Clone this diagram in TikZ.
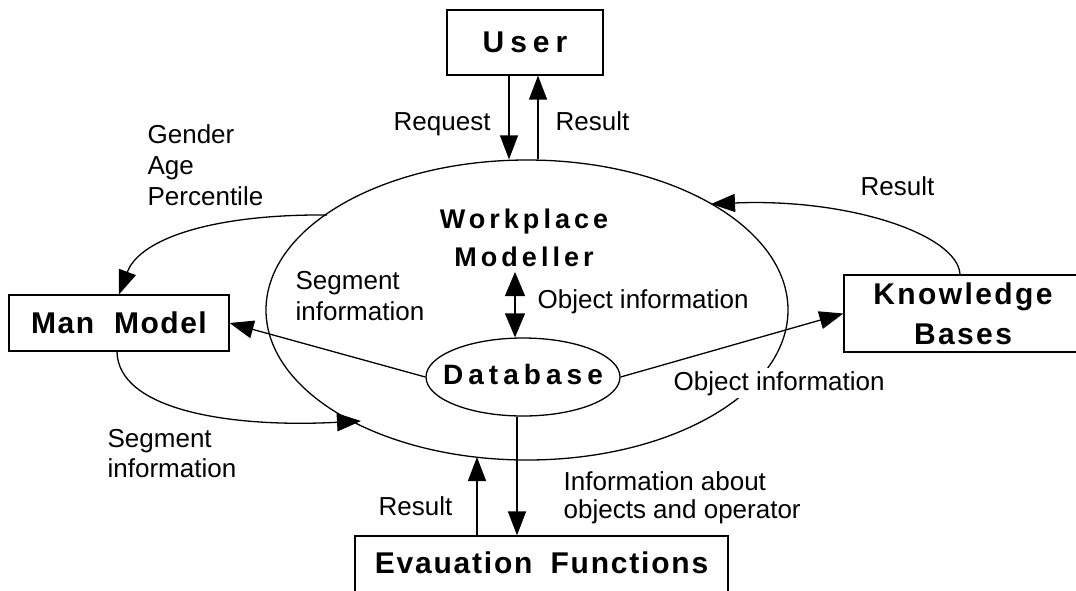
\documentclass[tikz,border=0pt]{standalone}
\usepackage{fontspec}
\setmainfont{Liberation Sans}
\usetikzlibrary{arrows.meta,shapes.geometric}

\tikzset{
  arr/.style={-{Triangle[length=24pt,width=18pt]}},
  dbl/.style={{Triangle[length=24pt,width=20pt]}-{Triangle[length=24pt,width=20pt]}},
  box/.style={draw, rectangle, inner sep=0pt, line width=1.2pt},
  lbl/.style={font=\fontsize{26}{31}\selectfont, inner sep=0pt},
  title/.style={font=\fontsize{30}{40}\selectfont\bfseries\addfontfeature{LetterSpace=#1}},
}

\begin{document}
\begin{tikzpicture}[x=1pt, y=-1pt, line width=1.3pt]
\useasboundingbox (0,0) rectangle (1076,590);
\clip (0,0) rectangle (1076,590);

% central modeller and its database
\node[draw, ellipse, minimum width=522pt, minimum height=300pt, inner sep=0pt] (wm) at (527,310) {};
\node[font=\fontsize{27}{38}\selectfont\bfseries\addfontfeature{LetterSpace=15}, align=center, inner sep=0pt] (wmt) at (524,238) {Workplace\\Modeller};
\node[draw, ellipse, minimum width=194pt, minimum height=78pt, inner sep=0pt,
      label={[inner sep=0pt, yshift=3pt, font=\fontsize{28}{34}\selectfont\bfseries\addfontfeature{LetterSpace=18}]center:Database}] (db) at (523,377) {};

% surrounding components
\node[box, title=20, minimum width=156pt, minimum height=65pt] (user) at (525,42.5) {User};
\node[box, title=5, minimum width=220pt, minimum height=56pt] (mm) at (119,323) {Man\hspace{20pt}Model};
\node[box, title=8, align=center, minimum width=238pt, minimum height=77pt] (kb) at (963,313.5) {Knowledge\\Bases};
\node[box, title=6, minimum width=373pt, minimum height=70pt, text height=21pt, text depth=17pt] (ev) at (541.5,571) {Evauation\hspace{18pt}Functions};

% points where connectors meet the modeller outline
\coordinate (wmGA) at (327,215);
\coordinate (wmSeg) at (361,421);
\coordinate (wmKB) at (711,204);
\coordinate (wmEv) at (477,457);
\coordinate (wmtb) at (515,272);

% connectors
\draw[arr] ([xshift=-16pt]user.south) -- ([xshift=-16pt]user.south |- wm.north);
\draw[arr] ([xshift=13pt]user.south |- wm.north) -- ([xshift=13pt]user.south);
\draw[arr] (wmGA) .. controls (215,214) and (140,238) .. (mm.north);
\draw[arr] ([xshift=-2pt]mm.south) .. controls (118,410) and (230,428) .. (wmSeg);
\draw[arr] ([xshift=-3pt]kb.north) .. controls (958,235) and (850,198) .. (wmKB);
\draw[arr] (db.west) -- (mm.east);
\draw[arr] (db.east) -- (kb.west);
\draw[dbl] (wmtb) -- (wmtb |- db.north);
\draw[arr] (ev.north -| wmEv) -- (wmEv);
\draw[arr] ([xshift=-6pt]db.south) -- ([xshift=-6pt]db.south |- ev.north);

% labels
\node[lbl, anchor=base west] (req) at (393,130) {Request};
\node[lbl, anchor=base west] (res1) at (555,130) {Result};
\node[lbl, anchor=north west, align=left] (gap) at (147,124) {Gender\\Age\\Percentile};
\node[lbl, anchor=north west, align=left] (seg1) at (295,271) {Segment\\information};
\node[lbl, anchor=base west] (obj1) at (537,308) {Object information};
\node[lbl, anchor=base west, fill=white, inner sep=3pt] (obj2) at (670,390) {Object information};
\node[lbl, anchor=base west] (res2) at (860,195) {Result};
\node[lbl, anchor=north west, align=left, font=\fontsize{26}{30}\selectfont] (seg2) at (107,429) {Segment\\information};
\node[lbl, anchor=base west] (res3) at (378,515) {Result};
\node[lbl, anchor=north west, align=left, font=\fontsize{26}{28}\selectfont] (info) at (563,471) {Information about\\objects and operator};
\end{tikzpicture}
\end{document}
